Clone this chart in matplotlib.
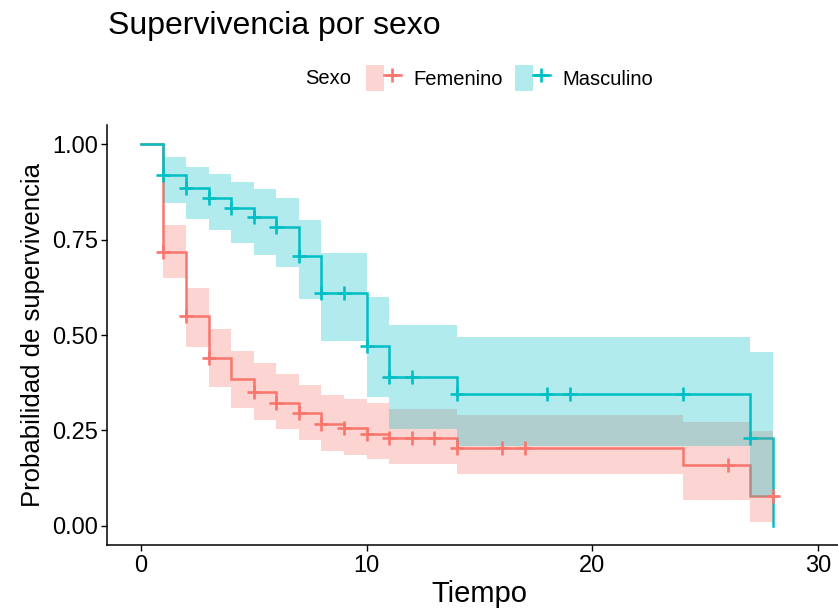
import numpy as np
import matplotlib
matplotlib.use("Agg")
import matplotlib.pyplot as plt
from matplotlib.patches import Patch
from matplotlib.lines import Line2D
from matplotlib.legend_handler import HandlerTuple

plt.rcParams['font.family'] = ['Liberation Sans', 'DejaVu Sans']

# Kaplan-Meier estimates by sex (step starts, value holds until next time)
groups = ["Femenino", "Masculino"]

times_fem = [0, 1, 2, 3, 4, 5, 6, 7, 8, 9, 10, 11, 14, 24, 27, 28]
surv_fem = [1.0, 0.718, 0.549, 0.439, 0.384, 0.352, 0.323, 0.295, 0.267,
            0.256, 0.241, 0.229, 0.205, 0.160, 0.079, 0.079]
upper_fem = [1.0, 0.788, 0.622, 0.517, 0.458, 0.426, 0.398, 0.369, 0.342,
             0.332, 0.321, 0.305, 0.290, 0.273, 0.249, 0.249]
lower_fem = [1.0, 0.650, 0.469, 0.363, 0.310, 0.277, 0.253, 0.225, 0.197,
             0.186, 0.175, 0.161, 0.136, 0.068, 0.009, 0.009]
censor_fem = [1, 2, 3, 5, 6, 7, 8, 9, 10, 11, 12, 13, 14, 16, 17, 26, 28]

times_masc = [0, 1, 2, 3, 4, 5, 6, 7, 8, 10, 11, 14, 27, 28]
surv_masc = [1.0, 0.919, 0.885, 0.860, 0.833, 0.810, 0.783, 0.708, 0.610,
             0.472, 0.390, 0.345, 0.230, 0.0]
upper_masc = [1.0, 0.965, 0.941, 0.921, 0.901, 0.883, 0.858, 0.800, 0.716,
              0.599, 0.525, 0.494, 0.455, 0.455]
lower_masc = [1.0, 0.846, 0.803, 0.775, 0.742, 0.709, 0.679, 0.594, 0.485,
              0.338, 0.253, 0.208, 0.077, 0.077]
censor_masc = [1, 2, 3, 4, 5, 6, 7, 8, 9, 10, 11, 12, 14, 18, 19, 24, 27]

y_ticks = [0.0, 0.25, 0.50, 0.75, 1.00]
x_ticks = [0, 10, 20, 30]

colors = {"Femenino": "#F8766D", "Masculino": "#00BFC4"}

series = {
    "Femenino": (times_fem, surv_fem, lower_fem, upper_fem, censor_fem),
    "Masculino": (times_masc, surv_masc, lower_masc, upper_masc, censor_masc),
}

W, H = 838, 610
fig = plt.figure(figsize=(W / 100, H / 100), dpi=100)
# axes box in pixels: left 107, right 852 (runs past the edge), top 125, bottom 545
ax = fig.add_axes([107 / W, (H - 545) / H, (852 - 107) / W, (545 - 125) / H])

lw = 1.8
ms, mew = 10, 1.9
# step lines first, ribbons on top of them (as the survival plot does)
for g in groups:
    t, s, lo, hi, cens = series[g]
    ax.plot(t, s, drawstyle='steps-post', color=colors[g], lw=lw, zorder=2,
            solid_joinstyle='miter')
for g in groups:
    t, s, lo, hi, cens = series[g]
    ax.fill_between(t, lo, hi, step='post', color=colors[g], alpha=0.3,
                    linewidth=0, zorder=3)
for g in groups:
    t, s, lo, hi, cens = series[g]
    idx = np.searchsorted(t, cens, side='right') - 1
    ax.plot(cens, np.asarray(s)[idx], linestyle='none', marker='+',
            markersize=ms, markeredgewidth=mew, color=colors[g], zorder=4)

ax.set_xlim(-1.5, 31.5)
ax.set_ylim(-0.05, 1.05)
ax.set_xticks(x_ticks)
ax.set_yticks(y_ticks)
ax.set_yticklabels([f"{v:.2f}" for v in y_ticks])

for side in ('top', 'right'):
    ax.spines[side].set_visible(False)
for side in ('left', 'bottom'):
    ax.spines[side].set_linewidth(1.1)
ax.tick_params(axis='both', length=4, width=1.0, labelsize=17, colors='black')
ax.tick_params(axis='y', pad=2.5)
ax.tick_params(axis='x', pad=3.5)

ax.set_xlabel("Tiempo", fontsize=21, labelpad=2)
ax.set_ylabel("Probabilidad de supervivencia", fontsize=18.5, labelpad=5)

fig.text(108 / W, 1 - 26 / H, "Supervivencia por sexo", fontsize=23,
         ha='left', va='center')

# legend: filled key with line and censor mark
handles = []
for g in groups:
    handles.append((Patch(facecolor=colors[g], alpha=0.3, edgecolor='none'),
                    Line2D([], [], color=colors[g], lw=lw, marker='+',
                           markersize=ms, markeredgewidth=mew)))
fig.text(305 / W, 1 - 78 / H, "Sexo", fontsize=14.5, ha='left', va='center')
fig.legend(handles, groups, loc='center left',
           bbox_to_anchor=(366 / W, 1 - 78 / H), ncol=2, frameon=False,
           fontsize=14.5, borderpad=0, borderaxespad=0, handlelength=1.75,
           handleheight=1.65, handletextpad=0.6, columnspacing=0.6,
           handler_map={tuple: HandlerTuple(ndivide=None, pad=0)})

fig.savefig("out.png", dpi=100)
